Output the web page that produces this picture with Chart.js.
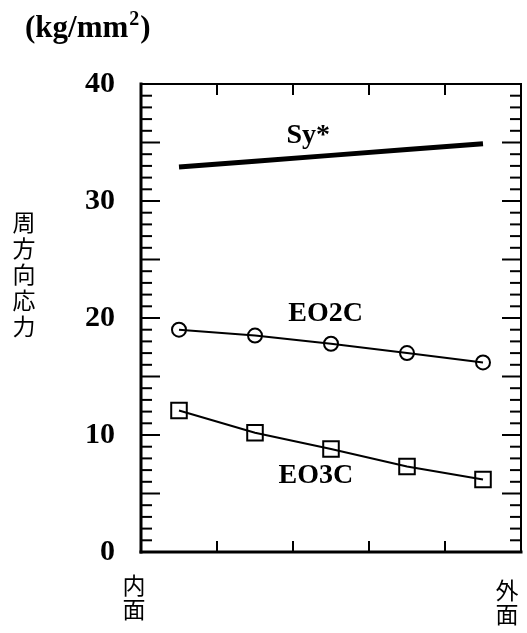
<!DOCTYPE html>
<html>
<head>
<meta charset="utf-8">
<script src="https://cdn.jsdelivr.net/npm/chart.js@4.4.1/dist/chart.umd.min.js"></script>
<style>
body { margin: 0; background: #fff; }
</style>
</head>
<body>
<canvas id="stress_chart" width="527" height="633"></canvas>
<script>
// positions through the wall (0 = inner face, 5 = outer face)
var positions = [0.5, 1.5, 2.5, 3.5, 4.5];
var sy_values = [32.9, 33.4, 33.9, 34.4, 34.9];
var eo2c_values = [19.0, 18.5, 17.8, 17.0, 16.2];
var eo3c_values = [12.1, 10.2, 8.8, 7.3, 6.2];
var y_ticks = [0, 10, 20, 30, 40];
var series_names = ['Sy*', 'EO2C', 'EO3C'];

var serif = '"Liberation Serif", "Times New Roman", serif';
var jp = '"Noto Sans CJK JP", sans-serif';

function toPoints(vals) {
  return vals.map(function (v, i) { return { x: positions[i], y: v }; });
}

function line(ctx, x1, y1, x2, y2) {
  ctx.beginPath();
  ctx.moveTo(x1, y1);
  ctx.lineTo(x2, y2);
  ctx.stroke();
}

function vertical(ctx, text, x, y, step) {
  for (var i = 0; i < text.length; i++) {
    ctx.fillText(text[i], x, y + i * step);
  }
}

// frame, inward ticks and the text around the plot
var framePlugin = {
  id: 'frame',
  afterDraw: function (chart) {
    var ctx = chart.ctx, a = chart.chartArea;
    var xs = chart.scales.x, ys = chart.scales.y;
    ctx.save();
    ctx.strokeStyle = '#000';
    ctx.fillStyle = '#000';
    ctx.lineCap = 'square';

    ctx.lineWidth = 3;
    line(ctx, a.left, a.top, a.left, a.bottom);
    line(ctx, a.left, a.bottom, a.right, a.bottom);
    ctx.lineWidth = 2;
    line(ctx, a.left, a.top, a.right, a.top);
    line(ctx, a.right, a.top, a.right, a.bottom);

    for (var v = 1; v < 40; v++) {
      var y = ys.getPixelForValue(v);
      var len = (v % 5 === 0) ? 18 : 10;
      line(ctx, a.left, y, a.left + len, y);
      line(ctx, a.right, y, a.right - len, y);
    }
    for (var k = 1; k < 5; k++) {
      var x = xs.getPixelForValue(k);
      line(ctx, x, a.top, x, a.top + 10);
      line(ctx, x, a.bottom, x, a.bottom - 10);
    }

    // series names
    ctx.font = 'bold 28px ' + serif;
    ctx.textAlign = 'center';
    ctx.textBaseline = 'middle';
    ctx.fillText(series_names[0], xs.getPixelForValue(2.2), ys.getPixelForValue(35.6));
    ctx.fillText(series_names[1], xs.getPixelForValue(2.43), ys.getPixelForValue(20.4));
    ctx.fillText(series_names[2], xs.getPixelForValue(2.3), ys.getPixelForValue(6.5));

    // unit
    ctx.textAlign = 'left';
    ctx.textBaseline = 'alphabetic';
    ctx.font = 'bold 31px ' + serif;
    var ux = 25, uy = 37;
    ctx.fillText('(kg/mm', ux, uy);
    ux += ctx.measureText('(kg/mm').width;
    ctx.font = 'bold 20px ' + serif;
    ctx.fillText('2', ux + 1, uy - 12);
    ux += ctx.measureText('2').width + 2;
    ctx.font = 'bold 31px ' + serif;
    ctx.fillText(')', ux, uy);

    // axis titles
    ctx.font = '23px ' + jp;
    ctx.textAlign = 'center';
    ctx.textBaseline = 'middle';
    vertical(ctx, '周方向応力', 24, 222, 26);
    vertical(ctx, '内面', xs.getPixelForValue(0) - 7, 585, 24);
    vertical(ctx, '外面', xs.getPixelForValue(5) - 14, 590, 24);
    ctx.restore();
  }
};

new Chart(document.getElementById('stress_chart').getContext('2d'), {
  type: 'scatter',
  data: {
    datasets: [{
      label: series_names[0],
      data: toPoints(sy_values),
      showLine: true,
      borderColor: '#000',
      borderWidth: 5,
      pointRadius: 0
    }, {
      label: series_names[1],
      data: toPoints(eo2c_values),
      showLine: true,
      borderColor: '#000',
      borderWidth: 2,
      pointStyle: 'circle',
      pointRadius: 7,
      pointBorderWidth: 2,
      pointBackgroundColor: 'rgba(0,0,0,0)',
      pointBorderColor: '#000'
    }, {
      label: series_names[2],
      data: toPoints(eo3c_values),
      showLine: true,
      borderColor: '#000',
      borderWidth: 2,
      pointStyle: 'rect',
      pointRadius: 11,
      pointBorderWidth: 2,
      pointBackgroundColor: 'rgba(0,0,0,0)',
      pointBorderColor: '#000'
    }]
  },
  options: {
    responsive: false,
    animation: false,
    layout: { autoPadding: false, padding: { top: 84, right: 6, bottom: 81, left: 0 } },
    plugins: {
      legend: { display: false },
      tooltip: { enabled: false }
    },
    scales: {
      x: {
        type: 'linear',
        min: 0,
        max: 5,
        display: false
      },
      y: {
        min: 0,
        max: 40,
        afterFit: function (s) { s.width = 141; },
        afterBuildTicks: function (s) {
          s.ticks = y_ticks.map(function (v) { return { value: v }; });
        },
        grid: { display: false, drawTicks: false },
        border: { display: false },
        ticks: {
          padding: 26,
          color: '#000',
          font: { family: serif, size: 30, weight: 'bold' }
        }
      }
    }
  },
  plugins: [framePlugin]
});
</script>
</body>
</html>
